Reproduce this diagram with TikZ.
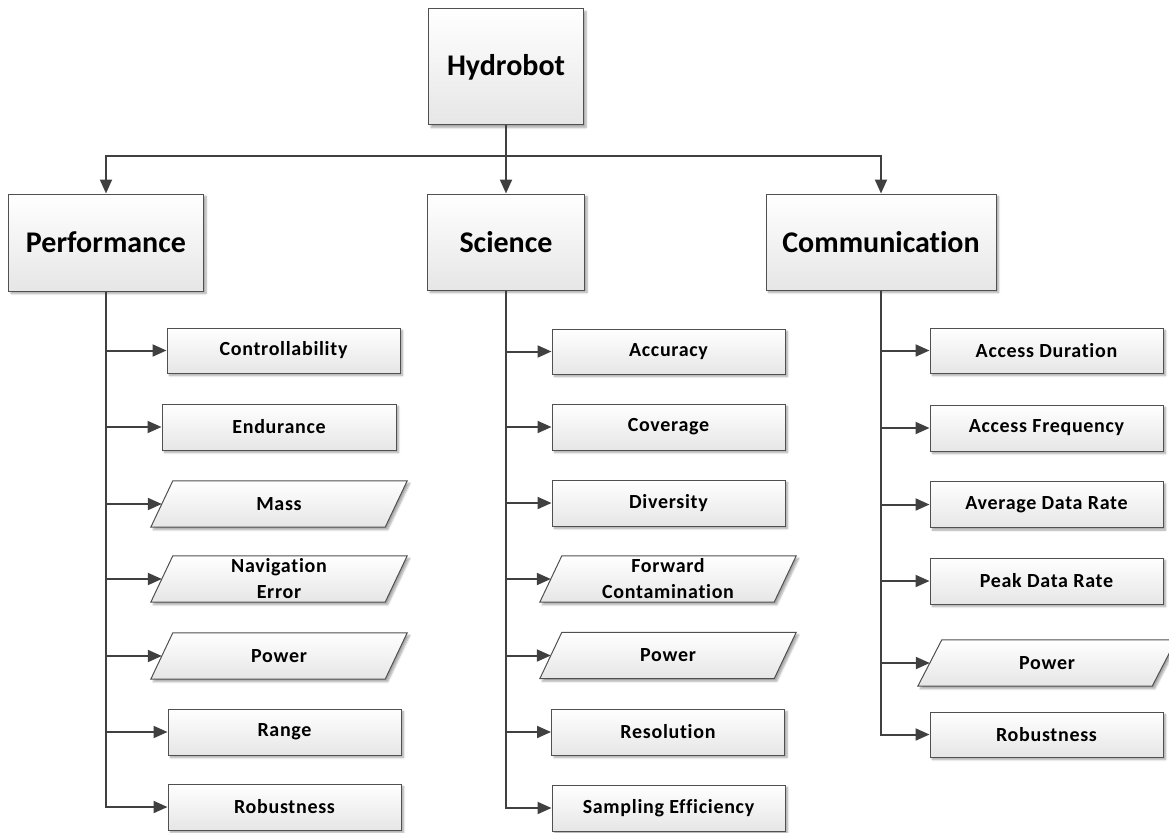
\documentclass[tikz,border=0pt]{standalone}
\usepackage{fontspec}
\setmainfont{Carlito}[Ligatures={NoCommon}]
\newfontfamily\leaffam{Carlito}[Ligatures={NoCommon},LetterSpace=3.5]
\usetikzlibrary{arrows.meta,shadows.blur,backgrounds}
\definecolor{linec}{HTML}{404040}
\definecolor{bordc}{HTML}{505050}
\definecolor{boxbot}{HTML}{E6E6E6}
\tikzset{
  boxfill/.style={draw=bordc, line width=1pt, top color=white, bottom color=boxbot,
    blur shadow={shadow xshift=2.5pt, shadow yshift=-2.5pt, shadow blur steps=6, shadow opacity=35}},
  topbox/.style={boxfill, rectangle, inner sep=0pt, font=\fontsize{30}{36}\selectfont\bfseries},
  leaffont/.style={font=\leaffam\fontsize{20}{26}\selectfont\bfseries, align=center},
  leafbox/.style={boxfill, rectangle, inner sep=0pt, minimum width=233pt, minimum height=46pt, leaffont},
  leafpara/.style={rectangle, inner sep=0pt, minimum width=234pt, minimum height=46pt, leaffont},
  conn/.style={draw=linec, line width=2pt, -{Triangle[length=14pt,width=12pt]}},
}
\newcommand\drawpara[1]{\path[boxfill] ([xshift=11pt]#1.north west) -- ([xshift=11pt]#1.north east) -- ([xshift=-11pt]#1.south east) -- ([xshift=-11pt]#1.south west) -- cycle;}
\begin{document}
\begin{tikzpicture}[x=1pt,y=-1pt]
\useasboundingbox (0,0) rectangle (1169,832);
% top level
\node[topbox, minimum width=155pt, minimum height=116pt] (hyd) at (506,67) {Hydrobot};
\node[topbox, minimum width=195pt, minimum height=97pt] (perf) at (106,242.5) {Performance};
\node[topbox, minimum width=157pt, minimum height=96pt] (sci) at (506,242) {Science};
\node[topbox, minimum width=230pt, minimum height=96pt] (comm) at (881,242) {Communication};
% performance leaves
\node[leafbox, minimum height=45pt] (p1) at (283.5,350.5) {Controllability};
\node[leafbox, minimum width=234pt] (p2) at (279,427) {Endurance};
\node[leafpara] (p3) at (279,504) {Mass};
\node[leafpara] (p4) at (279,579) {Navigation\\Error};
\node[leafpara] (p5) at (279,656) {Power};
\node[leafbox] (p6) at (284.5,732) {Range};
\node[leafbox] (p7) at (284.5,807) {Robustness};
% science leaves
\node[leafbox, minimum height=45pt] (s1) at (668.5,351.5) {Accuracy};
\node[leafbox] (s2) at (668.5,427) {Coverage};
\node[leafbox] (s3) at (668.5,503) {Diversity};
\node[leafpara] (s4) at (668,579) {Forward\\Contamination};
\node[leafpara] (s5) at (668,655.5) {Power};
\node[leafbox] (s6) at (668,732) {Resolution};
\node[leafbox] (s7) at (668.5,808) {Sampling Efficiency};
% communication leaves
\node[leafbox, minimum height=45pt] (c1) at (1046.5,350.5) {Access Duration};
\node[leafbox] (c2) at (1046.5,428) {Access Frequency};
\node[leafbox] (c3) at (1046.5,504.5) {Average Data Rate};
\node[leafbox] (c4) at (1046.5,581) {Peak Data Rate};
\node[leafpara] (c5) at (1047,663) {Power};
\node[leafbox, minimum height=45pt] (c6) at (1046.5,734.5) {Robustness};
\begin{scope}[on background layer]
\drawpara{p3}\drawpara{p4}\drawpara{p5}\drawpara{s4}\drawpara{s5}
\path[boxfill] ([xshift=12pt]c5.north west) -- ([xshift=12pt]c5.north east) -- ([xshift=-12pt]c5.south east) -- ([xshift=-12pt]c5.south west) -- cycle;
\end{scope}
% connectors
\draw[conn] (hyd.south) -- (sci.north);
\draw[conn] (hyd.south) -- ++(0,30) -| (perf.north);
\draw[conn] (hyd.south) -- ++(0,30) -| (comm.north);
\foreach \n in {p1,p2,p3,p4,p5,p6,p7} {\draw[conn] (perf.south) |- (\n.west);}
\foreach \n in {s1,s2,s3,s4,s5,s6,s7} {\draw[conn] (sci.south) |- (\n.west);}
\foreach \n in {c1,c2,c3,c4,c5,c6} {\draw[conn] (comm.south) |- (\n.west);}
\end{tikzpicture}
\end{document}
